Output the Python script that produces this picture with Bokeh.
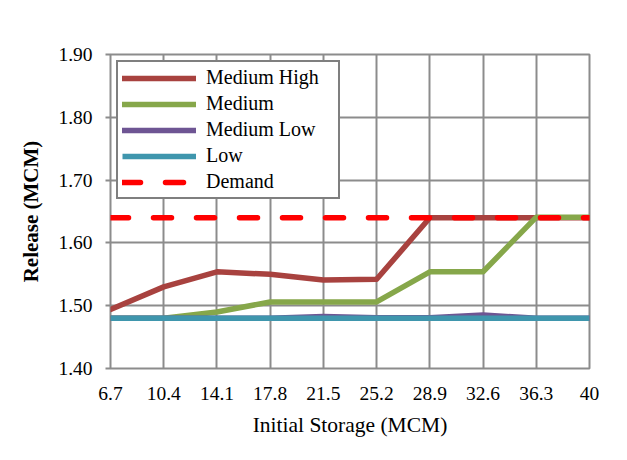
from bokeh.plotting import figure
from bokeh.models import Range1d, FixedTicker, NumeralTickFormatter, Legend, LegendItem
from bokeh.embed import file_html
from bokeh.resources import INLINE

storage = [6.7, 10.4, 14.1, 17.8, 21.5, 25.2, 28.9, 32.6, 36.3, 40]
storage_labels = ["6.7", "10.4", "14.1", "17.8", "21.5", "25.2", "28.9", "32.6", "36.3", "40"]
medium_high = [1.494, 1.530, 1.554, 1.550, 1.541, 1.542, 1.640, 1.640, 1.640, 1.640]
medium = [1.480, 1.480, 1.490, 1.506, 1.506, 1.506, 1.554, 1.554, 1.641, 1.641]
medium_low = [1.480, 1.480, 1.480, 1.480, 1.483, 1.481, 1.481, 1.485, 1.480, 1.480]
low = [1.480, 1.480, 1.480, 1.480, 1.480, 1.480, 1.480, 1.480, 1.480, 1.480]
demand = [1.640, 1.640, 1.640, 1.640, 1.640, 1.640, 1.640, 1.640, 1.640, 1.640]
y_ticks = [1.40, 1.50, 1.60, 1.70, 1.80, 1.90]
series_names = ["Medium High", "Medium", "Medium Low", "Low", "Demand"]

FONT = "Liberation Serif"
GRID = "#8c8c8c"

p = figure(width=619, height=452, output_backend="svg", toolbar_location=None,
           x_range=Range1d(6.7, 40), y_range=Range1d(1.40, 1.90),
           min_border_left=110, min_border_right=30, min_border_top=54, min_border_bottom=84)

p.background_fill_color = "white"
p.border_fill_color = "white"
p.outline_line_color = GRID
p.outline_line_width = 2

p.xaxis.ticker = FixedTicker(ticks=storage)
p.xaxis.major_label_overrides = {v: s for v, s in zip(storage, storage_labels)}
p.yaxis.ticker = FixedTicker(ticks=y_ticks)
p.yaxis.formatter = NumeralTickFormatter(format="0.00")

for ax in (p.xaxis[0], p.yaxis[0]):
    ax.axis_line_color = None
    ax.minor_tick_line_color = None
    ax.major_label_text_font = FONT
    ax.major_label_text_font_size = "19.5px"
    ax.major_label_text_color = "black"
    ax.axis_label_text_font = FONT
    ax.axis_label_text_font_size = "21.5px"
    ax.axis_label_text_color = "black"
    ax.axis_label_text_font_style = "normal"

p.xaxis.major_tick_line_color = None
p.xaxis.major_label_standoff = 12
p.xaxis.axis_label = "Initial Storage (MCM)"
p.xaxis.axis_label_standoff = 10

p.yaxis.major_tick_out = 5
p.yaxis.major_tick_in = 0
p.yaxis.major_tick_line_color = GRID
p.yaxis.major_tick_line_width = 2
p.yaxis.major_label_standoff = 13
p.yaxis.axis_label = "Release (MCM)"
p.yaxis.axis_label_text_font_size = "21px"
p.yaxis.axis_label_text_font_style = "bold"
p.yaxis.axis_label_standoff = 12

p.xgrid.ticker = FixedTicker(ticks=storage)
p.ygrid.ticker = FixedTicker(ticks=y_ticks)
for g in (p.xgrid[0], p.ygrid[0]):
    g.grid_line_color = GRID
    g.grid_line_width = 2

r_mh = p.line(storage, medium_high, line_color="#A8423F", line_width=5.5, line_join="round", line_cap="round")
r_m = p.line(storage, medium, line_color="#86A74A", line_width=5.5, line_join="round", line_cap="round")
r_ml = p.line(storage, medium_low, line_color="#6E5593", line_width=5.5, line_join="round", line_cap="round")
r_l = p.line(storage, low, line_color="#3F96AD", line_width=5.5, line_join="round", line_cap="butt")
r_d = p.line(storage, demand, line_color="#FF0000", line_width=5.5, line_dash="18 25", line_cap="round")
renderers = [r_mh, r_m, r_ml, r_l, r_d]

legend = Legend(items=[LegendItem(label=n, renderers=[r]) for n, r in zip(series_names, renderers)],
                location="top_left", margin=6, padding=4, spacing=3,
                glyph_width=74, glyph_height=20, label_height=20, label_width=128,
                label_standoff=10, label_text_font=FONT, label_text_font_size="20px",
                label_text_color="black",
                border_line_color="black", border_line_width=2,
                background_fill_color="white", background_fill_alpha=1.0)
p.add_layout(legend, "center")

open("out.html", "w").write(file_html(p, INLINE))
